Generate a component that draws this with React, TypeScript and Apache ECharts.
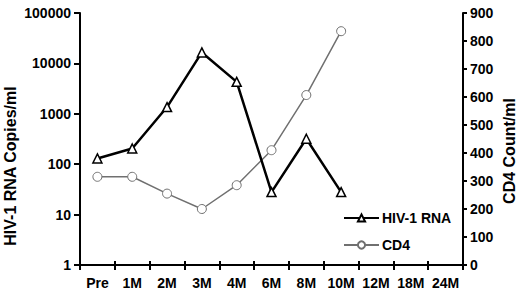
import React, { useEffect, useRef } from "react";
import * as echarts from "echarts";

const categories = ["Pre", "1M", "2M", "3M", "4M", "6M", "8M", "10M", "12M", "18M", "24M"];
const hivRna = [130, 205, 1360, 16500, 4300, 28, 320, 28, null, null, null];
const cd4 = [315, 315, 255, 200, 285, 410, 607, 835, null, null, null];
const leftTicks = [1, 10, 100, 1000, 10000, 100000];

const FONT = "'Liberation Sans', Arial, sans-serif";

export default function App() {
  const ref = useRef<HTMLDivElement>(null);
  useEffect(() => {
    if (!ref.current) return;
    const chart = echarts.init(ref.current, null, { renderer: "svg" });
    const labelStyle = { color: "#000", fontWeight: "bold" as const, fontFamily: FONT, fontSize: 14 };
    chart.setOption({
      animation: false,
      backgroundColor: "#fff",
      grid: { left: 80, right: 57, top: 13, bottom: 34 },
      legend: {
        orient: "vertical",
        left: 343,
        top: 211,
        itemWidth: 35,
        itemHeight: 9,
        itemGap: 13,
        padding: 0,
        textStyle: { ...labelStyle, fontSize: 14, padding: [0, 0, 0, -2] },
        data: ["HIV-1 RNA", "CD4"],
      },
      xAxis: [
        {
          type: "category",
          data: categories,
          boundaryGap: true,
          position: "bottom",
          axisLine: { lineStyle: { color: "#000", width: 2 } },
          axisTick: { show: true, length: 5, lineStyle: { color: "#000", width: 2 } },
          axisLabel: { ...labelStyle, fontSize: 14, margin: 11, interval: 0 },
          splitLine: { show: false },
        },
        {
          type: "category",
          data: categories,
          boundaryGap: true,
          position: "bottom",
          axisLine: { show: false },
          axisTick: { show: true, inside: true, length: 4, lineStyle: { color: "#000", width: 2 } },
          axisLabel: { show: false },
          splitLine: { show: false },
        },
      ],
      yAxis: [
        {
          type: "log",
          logBase: 10,
          min: leftTicks[0],
          max: leftTicks[leftTicks.length - 1],
          position: "left",
          axisLine: { show: true, lineStyle: { color: "#000", width: 2 } },
          axisTick: { show: true, length: 6, lineStyle: { color: "#000", width: 2 } },
          axisLabel: { ...labelStyle, margin: 9, formatter: (v: number) => String(Math.round(v)) },
          splitLine: { show: false },
          minorTick: { show: false },
        },
        {
          type: "value",
          min: 0,
          max: 900,
          interval: 100,
          position: "right",
          axisLine: { show: true, lineStyle: { color: "#000", width: 2 } },
          axisTick: { show: true, length: 4, lineStyle: { color: "#000", width: 2 } },
          axisLabel: { ...labelStyle, margin: 7 },
          splitLine: { show: false },
        },
      ],
      graphic: [
        {
          type: "text",
          x: 10,
          y: 166,
          rotation: Math.PI / 2,
          style: {
            text: "HIV-1 RNA Copies/ml",
            fill: "#000",
            font: `bold 16px ${FONT}`,
            textAlign: "center",
            textVerticalAlign: "middle",
          },
        },
        {
          type: "text",
          x: 509,
          y: 151,
          rotation: Math.PI / 2,
          style: {
            text: "CD4 Count/ml",
            fill: "#000",
            font: `bold 16px ${FONT}`,
            textAlign: "center",
            textVerticalAlign: "middle",
          },
        },
      ],
      series: [
        {
          name: "HIV-1 RNA",
          type: "line",
          xAxisIndex: 0,
          yAxisIndex: 0,
          data: hivRna,
          symbol: "triangle",
          symbolSize: 9,
          showAllSymbol: true,
          connectNulls: false,
          lineStyle: { color: "#000", width: 2.5 },
          itemStyle: { color: "#fff", borderColor: "#000", borderWidth: 1.5 },
          z: 3,
        },
        {
          name: "CD4",
          type: "line",
          xAxisIndex: 0,
          yAxisIndex: 1,
          data: cd4,
          symbol: "circle",
          symbolSize: 9,
          showAllSymbol: true,
          lineStyle: { color: "#707070", width: 1.5 },
          itemStyle: { color: "#fff", borderColor: "#707070", borderWidth: 1 },
          z: 2,
        },
      ],
    });
    return () => chart.dispose();
  }, []);
  return <div ref={ref} style={{ width: 520, height: 299, position: "absolute", left: 0, top: 0 }} />;
}
